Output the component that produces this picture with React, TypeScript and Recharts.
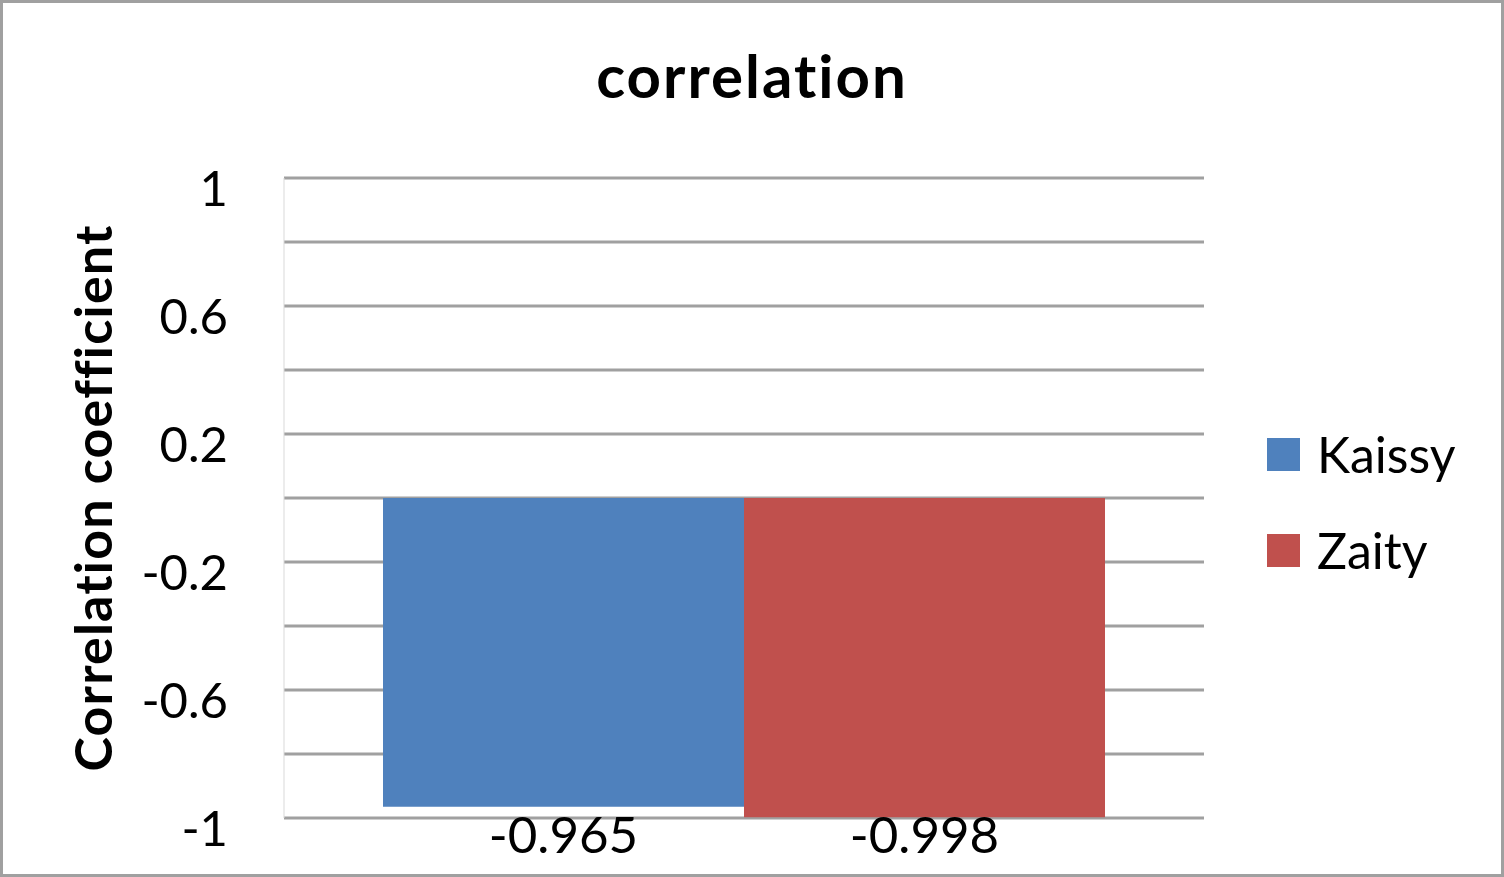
import { Bar, BarChart, CartesianGrid, LabelList, XAxis, YAxis } from 'recharts'

const categories = ['correlation']
const seriesNames = ['Kaissy', 'Zaity']
const seriesValues = [-0.965, -0.998]
const seriesColors = ['#4F81BD', '#C0504D']
const gridTicks = [-1, -0.8, -0.6, -0.4, -0.2, 0, 0.2, 0.4, 0.6, 0.8, 1]
const labelTicks = [-1, -0.6, -0.2, 0.2, 0.6, 1]

const W = 1504
const H = 877
const MARGIN = { top: 178, right: 300, bottom: 59, left: 0 }
const FONT = 'Lato, "Liberation Sans", sans-serif'

const data = categories.map((c) => {
  const row: Record<string, number | string> = { name: c }
  seriesNames.forEach((s, i) => (row[s] = seriesValues[i]))
  return row
})

function YTick({ x, y, payload }: any) {
  if (!labelTicks.some((t) => Math.abs(t - payload.value) < 1e-9)) return null
  return (
    <text x={x} y={y + 28} textAnchor="end" fill="#000" fontSize={49} fontFamily={FONT}>
      {String(payload.value)}
    </text>
  )
}

function YTitle({ viewBox }: any) {
  const cx = 92
  const cy = viewBox.y + viewBox.height / 2
  return (
    <text
      x={cx}
      y={cy}
      transform={`rotate(-90 ${cx} ${cy})`}
      textAnchor="middle"
      dominantBaseline="central"
      fontSize={52}
      fontWeight={700}
      fontFamily={FONT}
      letterSpacing={1.2}
      fill="#000"
    >
      Correlation coefficient
    </text>
  )
}

function BottomLabel({ x, width, value }: any) {
  return (
    <text
      x={x + width / 2}
      y={H - MARGIN.bottom + 35}
      textAnchor="middle"
      fontSize={51}
      fontFamily={FONT}
      fill="#000"
    >
      {String(value)}
    </text>
  )
}

export default function App() {
  return (
    <div
      style={{
        position: 'fixed',
        left: 0,
        top: 0,
        width: W,
        height: H,
        background: '#fff',
        boxShadow: 'inset 0 0 0 3px #A0A0A0',
        fontFamily: FONT,
      }}
    >
      <div
        style={{
          position: 'absolute',
          left: 0,
          width: W,
          top: 40,
          textAlign: 'center',
          fontSize: 60,
          fontWeight: 700,
          letterSpacing: 2,
          lineHeight: '70px',
          color: '#000',
        }}
      >
        correlation
      </div>
      <BarChart
        width={W}
        height={H}
        data={data}
        margin={MARGIN}
        barCategoryGap={99}
        barGap={0}
        style={{ position: 'absolute', left: 0, top: 0 }}
      >
        <CartesianGrid vertical={false} stroke="#A0A0A0" strokeWidth={3} />
        <XAxis dataKey="name" tick={false} axisLine={false} tickLine={false} height={0} />
        <YAxis
          domain={[-1, 1]}
          ticks={gridTicks}
          interval={0}
          width={284}
          tickSize={0}
          tickMargin={56}
          tickLine={false}
          axisLine={{ stroke: '#D9D9D9', strokeWidth: 1 }}
          tick={<YTick />}
          label={<YTitle />}
        />
        {seriesNames.map((s, i) => (
          <Bar key={s} dataKey={s} fill={seriesColors[i]} isAnimationActive={false}>
            <LabelList dataKey={s} content={<BottomLabel />} />
          </Bar>
        ))}
      </BarChart>
      <div style={{ position: 'absolute', left: 1267, top: 424 }}>
        {seriesNames.map((s, i) => (
          <div key={s} style={{ display: 'flex', alignItems: 'center', height: 60, marginBottom: 36 }}>
            <div style={{ width: 33, height: 33, background: seriesColors[i], marginRight: 17 }} />
            <span style={{ fontSize: 50, color: '#000' }}>{s}</span>
          </div>
        ))}
      </div>
    </div>
  )
}
